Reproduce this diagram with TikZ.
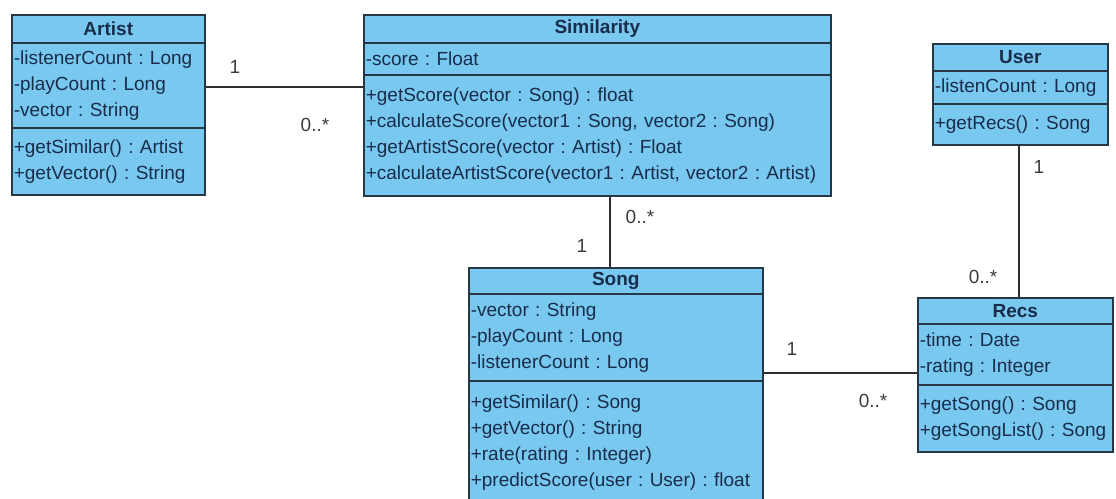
\documentclass[tikz,border=0pt]{standalone}
\usepackage{fontspec}
\setmainfont{Liberation Sans}
\frenchspacing
\definecolor{boxfill}{RGB}{120,200,240}
\definecolor{boxline}{RGB}{40,55,70}
\definecolor{boxtext}{RGB}{25,45,75}
\definecolor{multtext}{RGB}{60,60,60}
\definecolor{wireline}{RGB}{45,45,45}
\tikzset{
  umlpart/.style={draw=boxline, line width=1.6pt, fill=boxfill, inner sep=0pt,
    anchor=north west, text=boxtext, font=\fontsize{19}{26}\selectfont},
  umltitle/.style={umlpart, align=center, font=\bfseries\fontsize{19}{26}\selectfont},
  umlbody/.style={umlpart, align=left, inner xsep=2pt},
  assoc/.style={draw=wireline, line width=1.5pt},
  mult/.style={text=multtext, font=\fontsize{19}{22}\selectfont, inner sep=0pt},
}
\begin{document}
\begin{tikzpicture}[x=1pt,y=-1pt]
\useasboundingbox (0,0) rectangle (1116,498);
\clip (0,0) rectangle (1116,498);

% Artist
\node[umltitle, minimum width=193pt, minimum height=28pt] (artistT) at (11,14) {Artist};
\node[umlbody, minimum width=193pt, text width=189pt, minimum height=85pt] (artistA) at (11,42)
  {-listenerCount : Long\\-playCount : Long\\-vector : String};
\node[umlbody, minimum width=193pt, text width=189pt, minimum height=67pt] (artistM) at (11,127)
  {+getSimilar() : Artist\\+getVector() : String};

% Similarity
\node[umltitle, minimum width=467pt, minimum height=28pt] (simT) at (363,14) {Similarity};
\node[umlbody, minimum width=467pt, text width=463pt, minimum height=32pt] (simA) at (363,42)
  {-score : Float};
\node[umlbody, minimum width=467pt, text width=463pt, minimum height=121pt] (simM) at (363,74)
  {+getScore(vector : Song) : float\\
   +calculateScore(vector1 : Song, vector2 : Song)\\
   +getArtistScore(vector : Artist) : Float\\
   +calculateArtistScore(vector1 : Artist, vector2 : Artist)};

% User
\node[umltitle, minimum width=175pt, minimum height=27pt] (userT) at (932,43) {User};
\node[umlbody, minimum width=175pt, text width=171pt, minimum height=33pt] (userA) at (932,70)
  {-listenCount : Long};
\node[umlbody, minimum width=175pt, text width=171pt, minimum height=41pt] (userM) at (932,103)
  {+getRecs() : Song};

% Song (its method list runs past the lower edge)
\node[umltitle, minimum width=294pt, minimum height=26pt] (songT) at (468,267) {Song};
\node[umlbody, minimum width=294pt, text width=290pt, minimum height=87pt] (songA) at (468,293)
  {-vector : String\\-playCount : Long\\-listenerCount : Long};
\node[umlbody, minimum width=294pt, text width=290pt, minimum height=124pt] (songM) at (468,380)
  {+getSimilar() : Song\\+getVector() : String\\+rate(rating : Integer)\\+predictScore(user : User) : float};

% Recs
\node[umltitle, minimum width=195pt, minimum height=26pt] (recsT) at (917,297) {Recs};
\node[umlbody, minimum width=195pt, text width=191pt, minimum height=61pt] (recsA) at (917,323)
  {-time : Date\\-rating : Integer};
\node[umlbody, minimum width=195pt, text width=191pt, minimum height=67pt] (recsM) at (917,384)
  {+getSong() : Song\\+getSongList() : Song};

% Associations
\coordinate (asY) at (0,87);
\coordinate (srY) at (0,373);
\coordinate (ssX) at (610,0);
\coordinate (urX) at (1019,0);
\draw[assoc] (artistA.east |- asY) -- (simM.west |- asY);
\draw[assoc] (simM.south -| ssX) -- (songT.north -| ssX);
\draw[assoc] (songA.east |- srY) -- (recsA.west |- srY);
\draw[assoc] (userM.south -| urX) -- (recsT.north -| urX);

% Multiplicities
\node[mult] (m1) at (235,67) {1};
\node[mult] (m2) at (315,125) {0..*};
\node[mult] (m3) at (640,217) {0..*};
\node[mult] (m4) at (582,246) {1};
\node[mult] (m5) at (792,349) {1};
\node[mult] (m6) at (873,401) {0..*};
\node[mult] (m7) at (1039,167) {1};
\node[mult] (m8) at (983,277) {0..*};
\end{tikzpicture}
\end{document}
